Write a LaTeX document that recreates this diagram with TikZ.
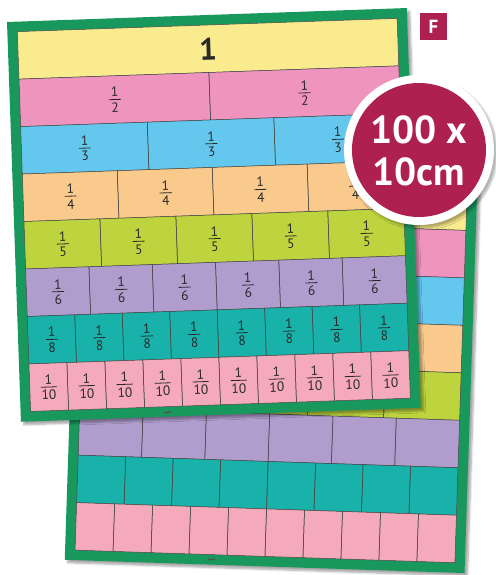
\documentclass[tikz,border=0pt]{standalone}
\usepackage{fontspec}
\setmainfont{PT Sans}
\usetikzlibrary{shadows.blur}
\definecolor{pgreen}{RGB}{24,152,92}
\definecolor{cyel}{RGB}{250,236,142}
\definecolor{cpink}{RGB}{238,148,190}
\definecolor{cblue}{RGB}{100,200,238}
\definecolor{corange}{RGB}{249,202,140}
\definecolor{clime}{RGB}{190,212,62}
\definecolor{cpurp}{RGB}{176,157,206}
\definecolor{cteal}{RGB}{24,178,170}
\definecolor{clpink}{RGB}{244,170,186}
\definecolor{cred}{RGB}{174,32,80}
\definecolor{ink}{RGB}{40,40,40}
\tikzset{
  cellline/.style={draw=ink!85, line width=0.5pt},
  poster/.style={fill=pgreen, blur shadow={shadow xshift=3pt, shadow yshift=-3pt, shadow blur steps=6, shadow opacity=35}},
  digit/.style={text=ink, inner sep=0pt, font=\fontsize{13.5}{13.5}\selectfont},
  fracbar/.style={draw=ink, line width=0.8pt},
  hookmark/.style={line width=1.6pt, draw=ink!80, line cap=round}
}
\begin{document}
\begin{tikzpicture}[x=1pt,y=-1pt]
\useasboundingbox (0,0) rectangle (495,575);
% ---------- back poster ----------
\begin{scope}[shift={(78,160)}, rotate=-1.9]
  \path[poster] (0,0) rectangle (400,400);
  \foreach \c/\n [count=\i from 0] in {cyel/1, cpink/2, cblue/3, corange/4, clime/5, cpurp/6, cteal/8, clpink/10} {
    \pgfmathsetmacro\ya{10+47.5*\i}
    \pgfmathsetmacro\yb{\ya+47.5}
    \fill[\c] (10,\ya) rectangle (390,\yb);
    \foreach \k in {1,...,\n} {
      \pgfmathsetmacro\xa{10+380*(\k-1)/\n}
      \pgfmathsetmacro\xb{10+380*\k/\n}
      \draw[cellline] (\xa,\ya) rectangle (\xb,\yb);
    }
  }
  \draw[hookmark] (144,395) -- (150,394.6);
\end{scope}
% ---------- front poster ----------
\begin{scope}[shift={(7,22)}, rotate=2, transform shape]
  \path[poster] (0,0) rectangle (400,400);
  \foreach \c/\n [count=\i from 0] in {cyel/1, cpink/2, cblue/3, corange/4, clime/5, cpurp/6, cteal/8, clpink/10} {
    \pgfmathsetmacro\ya{10+47.5*\i}
    \pgfmathsetmacro\yb{\ya+47.5}
    \fill[\c] (10,\ya) rectangle (390,\yb);
    \foreach \k in {1,...,\n} {
      \pgfmathsetmacro\xa{10+380*(\k-1)/\n}
      \pgfmathsetmacro\xb{10+380*\k/\n}
      \pgfmathsetmacro\cx{(\xa+\xb)/2}
      \pgfmathsetmacro\cy{(\ya+\yb)/2}
      \draw[cellline] (\xa,\ya) rectangle (\xb,\yb);
      \ifnum\n=1
        \node[text=ink, font=\bfseries\fontsize{31}{31}\selectfont] (whole) at (\cx,\cy) {1};
      \else
        \ifnum\n=10 \def\bw{8}\else\def\bw{6}\fi
        \node[digit] (num-\i-\k) at (\cx,\cy-7.5) {1};
        \node[digit] (den-\i-\k) at (\cx,\cy+8) {\n};
        \coordinate (bl-\i-\k) at (\cx-\bw,\cy);
        \coordinate (br-\i-\k) at (\cx+\bw,\cy);
        \draw[fracbar] (bl-\i-\k) -- (br-\i-\k);
      \fi
    }
  }
  \draw[hookmark] (144,396) -- (150,395.6);
\end{scope}
% ---------- badge ----------
\node[circle, fill=white, minimum size=150pt, inner sep=0pt,
      blur shadow={shadow xshift=3pt, shadow yshift=-3pt, shadow blur steps=6, shadow opacity=30}] (badge) at (419,150) {};
\node[circle, fill=cred, minimum size=134pt, inner sep=0pt] (badgein) at (badge.center) {};
\node[anchor=base, text=white, inner sep=0pt, font=\bfseries\fontsize{39}{39}\selectfont] (size1) at (419,143) {100 x};
\node[anchor=base, text=white, inner sep=0pt, font=\bfseries\fontsize{39}{39}\selectfont] (size2) at (419,185) {10cm};
% ---------- F label ----------
\node[fill=cred, minimum size=27pt, inner sep=0pt, text=white, font=\bfseries\fontsize{19}{19}\selectfont] (flabel) at (433.5,26.5) {F};
\end{tikzpicture}
\end{document}
